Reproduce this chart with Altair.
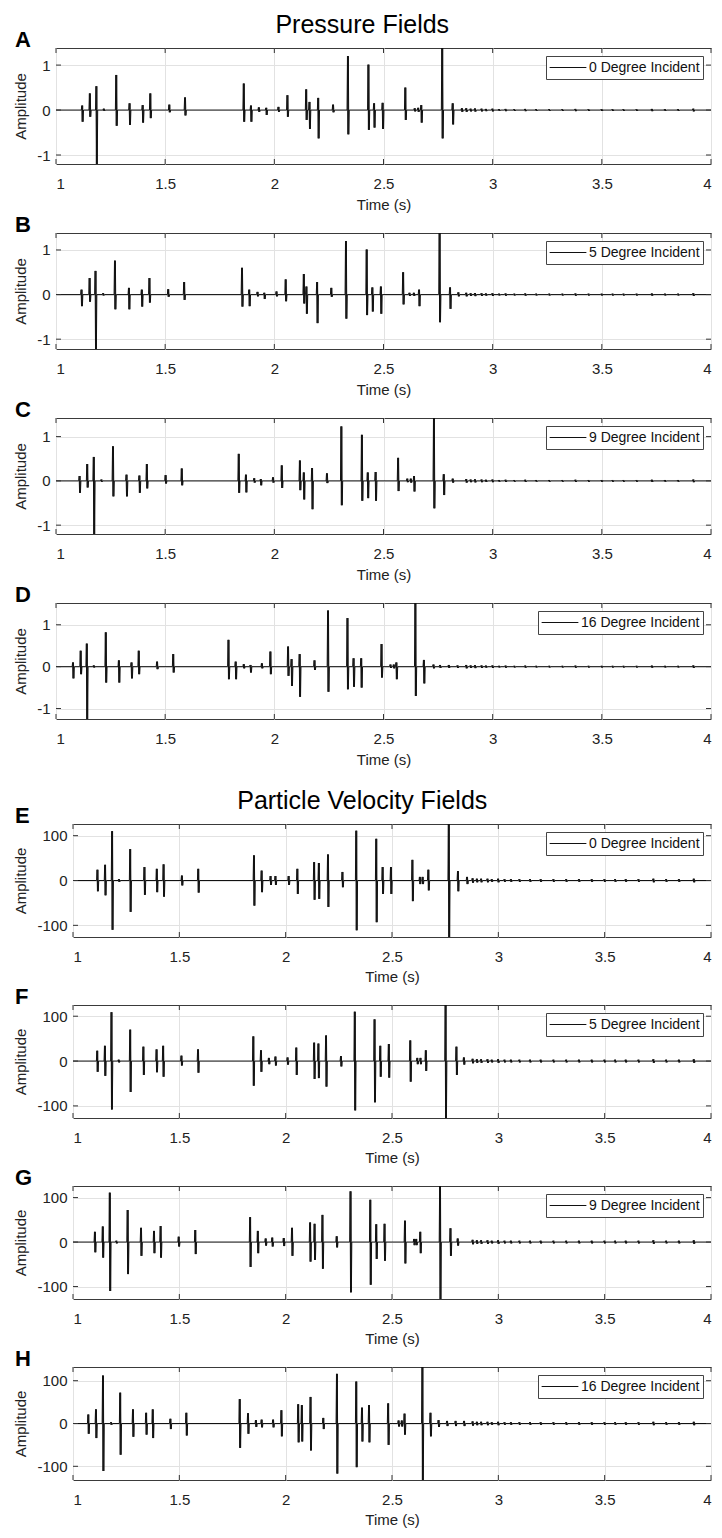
import altair as alt
import pandas as pd

FONT = "Liberation Sans"
TIME_TICKS = [1, 1.5, 2, 2.5, 3, 3.5, 4]
P_TICKS = [-1, 0, 1]
V_TICKS = [-100, 0, 100]
LETTERS = ["A", "B", "C", "D", "E", "F", "G", "H"]
LABELS = ["0 Degree Incident", "5 Degree Incident", "9 Degree Incident", "16 Degree Incident",
          "0 Degree Incident", "5 Degree Incident", "9 Degree Incident", "16 Degree Incident"]
SECTIONS = {0: "Pressure Fields", 4: "Particle Velocity Fields"}

# ---- Pressure fields: burst time (s), positive peak, negative peak ----
A_t = [1.121, 1.156, 1.186, 1.22, 1.277, 1.338, 1.398, 1.433, 1.52, 1.592, 1.861, 1.894, 1.93, 1.964, 2.02, 2.061, 2.147, 2.162, 2.202, 2.27, 2.338, 2.432, 2.458, 2.497, 2.601, 2.644, 2.66, 2.674, 2.77, 2.818, 2.86]
A_pos = [0.10, 0.37, 0.53, 0.03, 0.78, 0.15, 0.11, 0.37, 0.12, 0.28, 0.59, 0.10, 0.06, 0.05, 0.07, 0.33, 0.46, 0.18, 0.27, 0.12, 1.20, 1.01, 0.15, 0.16, 0.50, 0.04, 0.05, 0.11, 1.38, 0.15, 0.04]
A_neg = [-0.26, -0.15, -1.20, -0.02, -0.35, -0.33, -0.28, -0.18, -0.05, -0.12, -0.26, -0.26, -0.04, -0.11, -0.04, -0.15, -0.22, -0.42, -0.63, -0.05, -0.54, -0.44, -0.39, -0.42, -0.22, -0.03, -0.04, -0.28, -0.63, -0.32, -0.04]

B_t = [1.118, 1.155, 1.182, 1.217, 1.271, 1.335, 1.394, 1.429, 1.515, 1.588, 1.853, 1.886, 1.924, 1.955, 2.011, 2.053, 2.136, 2.148, 2.197, 2.262, 2.329, 2.424, 2.45, 2.489, 2.591, 2.62, 2.64, 2.664, 2.758, 2.806, 2.844]
B_pos = [0.11, 0.37, 0.53, 0.03, 0.76, 0.15, 0.11, 0.37, 0.12, 0.28, 0.60, 0.11, 0.06, 0.04, 0.07, 0.34, 0.46, 0.18, 0.28, 0.15, 1.20, 1.01, 0.16, 0.18, 0.50, 0.04, 0.04, 0.11, 1.38, 0.16, 0.05]
B_neg = [-0.26, -0.16, -1.22, -0.02, -0.33, -0.33, -0.27, -0.18, -0.05, -0.12, -0.27, -0.26, -0.04, -0.10, -0.04, -0.15, -0.20, -0.43, -0.64, -0.05, -0.54, -0.46, -0.38, -0.43, -0.22, -0.03, -0.03, -0.26, -0.62, -0.32, -0.04]

C_t = [1.109, 1.144, 1.174, 1.209, 1.262, 1.324, 1.383, 1.417, 1.503, 1.577, 1.838, 1.871, 1.909, 1.939, 1.995, 2.035, 2.118, 2.136, 2.174, 2.242, 2.308, 2.402, 2.429, 2.465, 2.568, 2.61, 2.626, 2.641, 2.732, 2.777, 2.818]
C_pos = [0.11, 0.38, 0.54, 0.03, 0.78, 0.14, 0.12, 0.38, 0.13, 0.28, 0.61, 0.14, 0.06, 0.04, 0.08, 0.35, 0.46, 0.19, 0.29, 0.17, 1.23, 1.04, 0.19, 0.20, 0.52, 0.05, 0.05, 0.11, 1.42, 0.15, 0.05]
C_neg = [-0.27, -0.15, -1.20, -0.02, -0.35, -0.35, -0.27, -0.17, -0.06, -0.10, -0.27, -0.26, -0.04, -0.10, -0.04, -0.16, -0.21, -0.42, -0.64, -0.05, -0.55, -0.45, -0.39, -0.45, -0.23, -0.03, -0.04, -0.24, -0.62, -0.32, -0.04]

D_t = [1.079, 1.114, 1.142, 1.174, 1.229, 1.289, 1.347, 1.38, 1.464, 1.538, 1.791, 1.824, 1.861, 1.892, 1.944, 1.983, 2.064, 2.08, 2.117, 2.185, 2.247, 2.336, 2.364, 2.399, 2.492, 2.533, 2.548, 2.56, 2.647, 2.686, 2.73, 2.76, 2.8, 2.84]
D_pos = [0.10, 0.38, 0.55, 0.03, 0.82, 0.15, 0.10, 0.38, 0.12, 0.30, 0.64, 0.12, 0.06, 0.04, 0.08, 0.36, 0.48, 0.18, 0.30, 0.15, 1.34, 1.16, 0.20, 0.20, 0.54, 0.05, 0.05, 0.10, 1.52, 0.16, 0.05, 0.04, 0.04, 0.03]
D_neg = [-0.28, -0.18, -1.25, -0.02, -0.38, -0.38, -0.28, -0.18, -0.06, -0.14, -0.30, -0.30, -0.04, -0.14, -0.04, -0.18, -0.22, -0.46, -0.72, -0.08, -0.60, -0.54, -0.48, -0.50, -0.26, -0.03, -0.04, -0.30, -0.70, -0.40, -0.04, -0.03, -0.03, -0.03]

# ---- Particle velocity fields ----
E_t = [1.116, 1.152, 1.185, 1.217, 1.27, 1.337, 1.395, 1.427, 1.513, 1.59, 1.852, 1.888, 1.93, 1.953, 2.015, 2.056, 2.135, 2.157, 2.2, 2.268, 2.333, 2.427, 2.457, 2.496, 2.597, 2.632, 2.645, 2.672, 2.768, 2.811, 2.854]
E_pos = [24, 35, 110, 3, 70, 30, 26, 36, 11, 26, 56, 22, 10, 10, 10, 26, 41, 39, 58, 19, 111, 93, 30, 30, 46, 8, 8, 24, 126, 21, 8]
E_neg = [-24, -33, -110, -3, -70, -32, -26, -36, -11, -27, -56, -26, -10, -10, -10, -30, -43, -41, -59, -15, -111, -93, -30, -30, -46, -8, -8, -22, -126, -24, -8]

F_t = [1.115, 1.151, 1.182, 1.216, 1.27, 1.332, 1.394, 1.425, 1.511, 1.589, 1.849, 1.885, 1.922, 1.953, 2.01, 2.051, 2.135, 2.155, 2.191, 2.261, 2.326, 2.419, 2.446, 2.486, 2.587, 2.62, 2.635, 2.66, 2.753, 2.804, 2.839]
F_pos = [23, 34, 109, 3, 70, 32, 26, 34, 12, 26, 55, 24, 7, 10, 8, 30, 41, 39, 57, 11, 110, 93, 34, 38, 46, 7, 7, 24, 125, 32, 8]
F_neg = [-24, -33, -108, -3, -69, -31, -25, -35, -10, -26, -55, -24, -7, -10, -8, -31, -40, -38, -57, -12, -110, -92, -35, -37, -46, -7, -7, -22, -127, -31, -8]

G_t = [1.104, 1.141, 1.174, 1.205, 1.258, 1.321, 1.382, 1.413, 1.498, 1.576, 1.834, 1.87, 1.907, 1.938, 1.992, 2.031, 2.116, 2.137, 2.174, 2.241, 2.306, 2.399, 2.427, 2.466, 2.562, 2.605, 2.615, 2.634, 2.727, 2.776, 2.81]
G_pos = [23, 35, 111, 3, 72, 32, 25, 36, 12, 27, 56, 25, 8, 10, 9, 32, 44, 41, 61, 13, 114, 95, 40, 41, 48, 7, 7, 23, 126, 31, 8]
G_neg = [-23, -35, -110, -3, -72, -31, -25, -35, -10, -27, -56, -25, -8, -10, -9, -31, -44, -40, -60, -12, -113, -96, -38, -42, -48, -7, -7, -25, -128, -31, -8]

H_t = [1.073, 1.109, 1.142, 1.18, 1.223, 1.283, 1.345, 1.376, 1.459, 1.534, 1.785, 1.824, 1.861, 1.888, 1.942, 1.981, 2.06, 2.077, 2.118, 2.178, 2.242, 2.333, 2.36, 2.393, 2.483, 2.532, 2.547, 2.56, 2.644, 2.682, 2.72, 2.76, 2.8, 2.84]
H_pos = [21, 33, 112, 3, 72, 33, 25, 33, 11, 25, 57, 24, 8, 9, 9, 31, 45, 43, 62, 13, 116, 98, 37, 43, 47, 7, 7, 23, 132, 25, 8, 6, 6, 6]
H_neg = [-24, -34, -111, -3, -73, -31, -26, -34, -13, -28, -57, -24, -8, -9, -9, -30, -44, -42, -63, -13, -117, -102, -42, -44, -50, -7, -7, -26, -132, -30, -8, -6, -6, -6]

# ---- residual low-level ringing after the bursts ----
NOISE_T = [2.88, 2.9, 2.92, 2.95, 2.97, 3.0, 3.03, 3.06, 3.1, 3.15, 3.2, 3.26, 3.32, 3.38, 3.44, 3.5, 3.55, 3.6, 3.66, 3.73, 3.79, 3.85, 3.92]
P_NOISE = [0.04, 0.03, 0.035, 0.03, 0.025, 0.03, 0.02, 0.025, 0.02, 0.025, 0.02, 0.02, 0.02, 0.025, 0.02, 0.02, 0.02, 0.02, 0.02, 0.025, 0.02, 0.02, 0.03]
V_NOISE = [5, 4, 4, 4, 3, 4, 3, 3, 3, 3, 3, 3, 3, 3, 3, 3, 3, 3, 3, 4, 3, 3, 4]

# y-axis limits of each panel
DOMAINS = [[-1.2, 1.38], [-1.22, 1.38], [-1.2, 1.42], [-1.25, 1.52],
           [-126, 126], [-127, 125], [-128, 126], [-132, 132]]

SERIES = [(A_t, A_pos, A_neg), (B_t, B_pos, B_neg), (C_t, C_pos, C_neg), (D_t, D_pos, D_neg),
          (E_t, E_pos, E_neg), (F_t, F_pos, F_neg), (G_t, G_pos, G_neg), (H_t, H_pos, H_neg)]

STEP = 0.002
OFFS = [-2.5, -1.5, -0.5, 0.5, 1.5, 2.5]
TL = 5
TICKC = "#333333"
INK = "#111111"


def trace(ts, pos, neg, nt, na):
    ev = sorted(list(zip(ts, pos, neg)) + [(t, a, -a) for t, a in zip(nt, na)])
    rows = [(1.0, 0.0)]
    for t, p, n in ev:
        for k, v in zip(OFFS, (0.0, p, n, p, n, 0.0)):
            rows.append((t + k * STEP, v))
    rows.append((4.0, 0.0))
    return pd.DataFrame(rows, columns=["t", "amp"])


def panel(i, df, w, h, yticks, yext, letter_x, xpad):
    label = LABELS[i]
    df = df.assign(series=label)
    xs = alt.Scale(domain=[1, 4], nice=False, zero=False)
    ys = alt.Scale(domain=DOMAINS[i], nice=False, zero=False)
    xax = alt.Axis(values=TIME_TICKS, title="Time (s)", labelExpr="'' + datum.value",
                   grid=True, ticks=False, domain=False, labelPadding=12, titlePadding=xpad,
                   labelFlush=True)
    yax = alt.Axis(values=yticks, title="Amplitude", labelExpr="'' + datum.value",
                   grid=True, ticks=False, domain=False, labelPadding=6,
                   minExtent=yext, maxExtent=yext, titlePadding=6)
    line = alt.Chart(df).mark_line(strokeWidth=1, clip=True, color=INK).encode(
        x=alt.X("t:Q", scale=xs, axis=xax),
        y=alt.Y("amp:Q", scale=ys, axis=yax),
        color=alt.Color("series:N", scale=alt.Scale(range=[INK]),
                        legend=alt.Legend(title=None, orient="top-right", offset=8)),
    )
    xt = pd.DataFrame({"t": TIME_TICKS})
    yt = pd.DataFrame({"amp": yticks})
    tk_top = alt.Chart(xt).mark_rule(color=TICKC).encode(
        x=alt.X("t:Q"), y=alt.value(0), y2=alt.value(TL))
    tk_bot = alt.Chart(xt).mark_rule(color=TICKC).encode(
        x=alt.X("t:Q"), y=alt.value(h - TL), y2=alt.value(h))
    tk_l = alt.Chart(yt).mark_rule(color=TICKC).encode(
        y=alt.Y("amp:Q"), x=alt.value(0), x2=alt.value(TL))
    tk_r = alt.Chart(yt).mark_rule(color=TICKC).encode(
        y=alt.Y("amp:Q"), x=alt.value(w - TL), x2=alt.value(w))
    let = alt.Chart(pd.DataFrame({"letter": [LETTERS[i]]})).mark_text(
        align="left", baseline="alphabetic", fontSize=22, fontWeight="bold",
        font=FONT, color="#000000"
    ).encode(text="letter:N", x=alt.value(letter_x), y=alt.value(-1))
    layers = alt.layer(line, tk_top, tk_bot, tk_l, tk_r, let).properties(width=w, height=h)
    if i in SECTIONS:
        txt = SECTIONS[i] if i == 0 else [" ", SECTIONS[i]]
        layers = layers.properties(title=alt.TitleParams(
            txt, anchor="middle", frame="bounds", fontSize=25, font=FONT,
            fontWeight="normal", color="#000000", offset=-9, lineHeight=20))
    spacer = alt.Chart(pd.DataFrame({"s": [0]})).mark_rule(opacity=0, strokeWidth=0).encode(
        x=alt.value(0), y=alt.value(0), y2=alt.value(1)
    ).properties(width=1, height=1, view=alt.ViewBackground(stroke="transparent"))
    return alt.hconcat(spacer, layers, spacing=0).resolve_scale(
        color="independent", x="independent", y="independent")


rows = []
for i in range(8):
    ts, pos, neg = SERIES[i]
    if i < 4:
        df = trace(ts, pos, neg, NOISE_T, P_NOISE)
        rows.append(panel(i, df, 655, 116, P_TICKS, 22, -41, 6))
    else:
        df = trace(ts, pos, neg, NOISE_T, V_NOISE)
        rows.append(panel(i, df, 638, 113, V_TICKS, 39, -58, 5))

chart = alt.vconcat(*rows, spacing=0).properties(
    padding={"left": 1, "top": 4, "right": 0, "bottom": 0}
).resolve_scale(
    color="independent", x="independent", y="independent"
).configure_view(
    stroke="#3a3a3a", strokeWidth=1
).configure_axis(
    labelFont=FONT, titleFont=FONT, labelFontSize=15, titleFontSize=15,
    titleFontWeight="normal", labelColor="#222222", titleColor="#222222",
    gridColor="#e2e2e2", gridWidth=1
).configure_legend(
    strokeColor="#444444", fillColor="white", padding=3, symbolType="stroke",
    symbolSize=1350, symbolStrokeWidth=1.2, labelFont=FONT, labelFontSize=14,
    labelColor="#111111", cornerRadius=0, labelOffset=2, clipHeight=17
)

chart.save("out.html", embed_options={"renderer": "svg", "actions": False})
